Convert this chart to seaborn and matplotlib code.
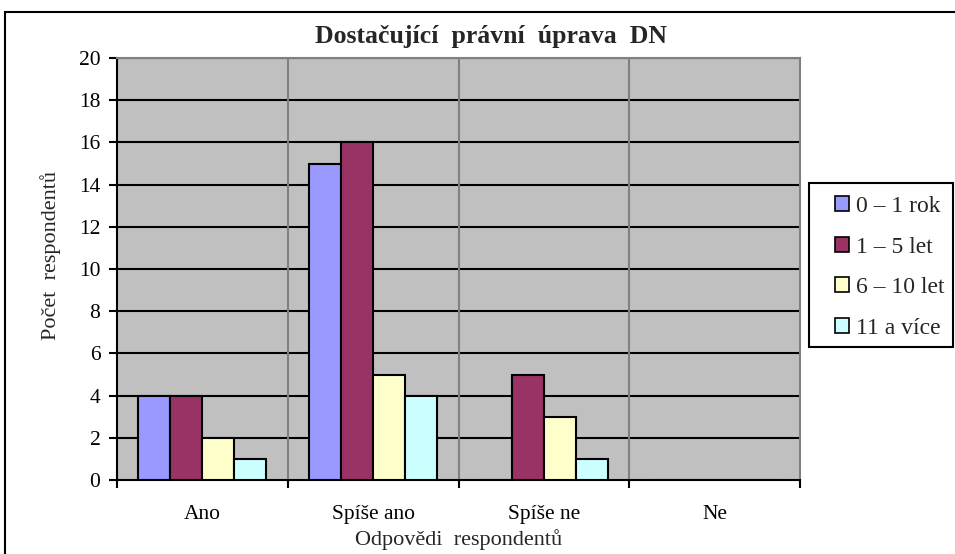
import matplotlib
matplotlib.use("Agg")
import matplotlib.pyplot as plt
import matplotlib.patches as mpatches
import seaborn as sns
import pandas as pd

categories = ["Ano", "Spíše ano", "Spíše ne", "Ne"]
series_names = ["0 – 1 rok", "1 – 5 let", "6 – 10 let", "11 a více"]
v_0_1 = [4, 15, 0, 0]
v_1_5 = [4, 16, 5, 0]
v_6_10 = [2, 5, 3, 0]
v_11 = [1, 4, 1, 0]
colors = ["#9999FF", "#993366", "#FFFFCC", "#CCFFFF"]
title = "Dostačující  právní  úprava  DN"
xlabel = "Odpovědi  respondentů"
ylabel = "Počet  respondentů"

rows = []
for name, vals in zip(series_names, [v_0_1, v_1_5, v_6_10, v_11]):
    for c, v in zip(categories, vals):
        rows.append({"cat": c, "ser": name, "val": v})
df = pd.DataFrame(rows)

sns.set_theme(style="white")
plt.rcParams["font.family"] = ["Liberation Serif", "DejaVu Serif"]

fig = plt.figure(figsize=(9.55, 5.54), dpi=100)
fig.patch.set_facecolor("white")
ax = fig.add_axes([117/955, 1-480/554, 683/955, 422/554])
ax.set_facecolor("#C0C0C0")

sns.barplot(data=df, x="cat", y="val", hue="ser", order=categories,
            hue_order=series_names, palette=colors, width=0.75, gap=0,
            edgecolor="black", linewidth=1.5, ax=ax, legend=True,
            zorder=3, saturation=1)

ax.set_xlim(-0.5, 3.5)
ax.set_ylim(0, 20)
ax.set_yticks(range(0, 21, 2))
for y in range(2, 21, 2):
    ax.axhline(y, color="black", lw=1.5, zorder=1)
for x in [0.5, 1.5, 2.5]:
    ax.axvline(x, color="#808080", lw=1.5, zorder=1)

for s in ["top", "right"]:
    ax.spines[s].set_color("#808080")
    ax.spines[s].set_linewidth(1.5)
for s in ["left", "bottom"]:
    ax.spines[s].set_color("black")
    ax.spines[s].set_linewidth(1.5)

ax.set_xticks(range(4))
ax.set_xticklabels(categories)
ax.set_xticks([-0.5, 0.5, 1.5, 2.5, 3.5], minor=True)
ax.tick_params(axis="x", which="major", length=0, pad=18, labelsize=15.5, colors="black")
ax.tick_params(axis="x", which="minor", length=6, width=1.5, direction="out", color="black", bottom=True)
ax.tick_params(axis="y", which="major", length=6, width=1.5, direction="out", left=True,
               pad=6, labelsize=15.5, colors="black")

ax.set_xlabel(xlabel, fontsize=16)
ax.xaxis.set_label_coords(0.5007, -0.142)
ax.xaxis.label.set_verticalalignment("center")
ax.set_ylabel(ylabel, fontsize=16)
ax.yaxis.set_label_coords(-0.098, 0.533)
ax.yaxis.label.set_verticalalignment("center")

fig.text(491/955, 1-36/554, title, ha="center", va="center", fontsize=18.5, fontweight="bold")

handles, labels = ax.get_legend_handles_labels()
ax.get_legend().remove()
leg = fig.legend(handles, labels, loc="upper left", bbox_to_anchor=(835/955, 1-196/554),
                 frameon=False, fontsize=17, handlelength=0.6,
                 handleheight=0.6, labelspacing=0.83, handletextpad=0.3,
                 borderpad=0, borderaxespad=0)
for h in leg.legend_handles:
    h.set_edgecolor("black")
    h.set_linewidth(1.2)

legbox = mpatches.Rectangle((809/955, 1-347/554), 144/955, 164/554, transform=fig.transFigure,
                            fill=False, edgecolor="black", lw=1.5, clip_on=False)
fig.add_artist(legbox)

border = mpatches.Rectangle((5/955, -0.1), 1.2, 1.1 - 12/554, transform=fig.transFigure,
                            fill=False, edgecolor="black", lw=1.5, clip_on=False)
fig.add_artist(border)

fig.savefig("out.png", dpi=100)
